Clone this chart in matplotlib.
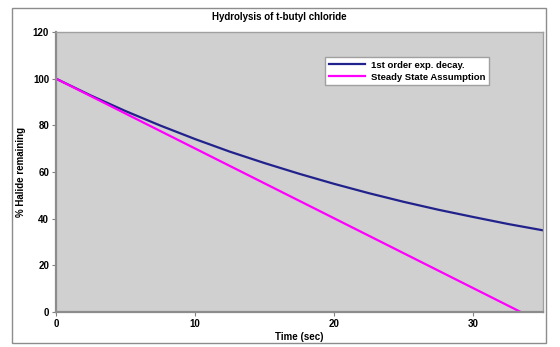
import matplotlib
matplotlib.use("Agg")
import matplotlib.pyplot as plt
from matplotlib.patches import Rectangle

# values
t_decay = [0, 2.5, 5, 7.5, 10, 12.5, 15, 17.5, 20, 22.5, 25, 27.5, 30, 32.5, 35]
halide_decay = [100, 92.8, 86.1, 79.9, 74.1, 68.7, 63.8, 59.2, 54.9, 50.9,
                47.2, 43.8, 40.7, 37.7, 35.0]
t_steady = [0, 33.4]
halide_steady = [100, 0]

x_ticks = [0, 10, 20, 30]
y_ticks = [0, 20, 40, 60, 80, 100, 120]

plt.rcParams["font.family"] = ["Liberation Sans", "DejaVu Sans"]
plt.rcParams["font.size"] = 7
plt.rcParams["font.weight"] = "bold"

W, H = 560, 347
fig = plt.figure(figsize=(W / 100, H / 100), dpi=100)
fig.patch.set_facecolor("white")

# chart area border
fig.patches.append(Rectangle((12 / W, 1 - 343 / H), (546 - 12) / W, (343 - 8) / H,
                             transform=fig.transFigure, fill=False,
                             edgecolor="#8c8c8c", linewidth=1.0))

ax = fig.add_axes([56 / W, 1 - 312 / H, (543 - 56) / W, (312 - 32) / H])
ax.set_facecolor("#d0d0d0")

ax.plot(t_decay, halide_decay, color="#22228c", linewidth=1.6,
        label="1st order exp. decay.")
ax.plot(t_steady, halide_steady, color="#ff00ff", linewidth=1.6,
        label="Steady State Assumption")

ax.set_xlim(0, 35)
ax.set_ylim(0, 120)
ax.set_xticks(x_ticks)
ax.set_yticks(y_ticks)
ax.tick_params(axis="both", length=3, width=0.8, color="#808080", labelsize=7, pad=2)

for s in ["top", "right"]:
    ax.spines[s].set_color("#a0a0a0")
    ax.spines[s].set_linewidth(1.0)
for s in ["bottom", "left"]:
    ax.spines[s].set_color("#8c8c8c")
    ax.spines[s].set_linewidth(1.6)

ax.set_xlabel("Time (sec)", fontsize=7, fontweight="bold", labelpad=2)
fig.text(21 / W, 1 - 172 / H, "% Halide remaining", rotation=90, ha="center",
         va="center", fontsize=7, fontweight="bold")
fig.text(279 / W, 1 - 17 / H, "Hydrolysis of t-butyl chloride", ha="center",
         va="center", fontsize=7, fontweight="bold")

leg = ax.legend(loc="upper left", bbox_to_anchor=(0.552, 0.911), frameon=True,
                fancybox=False, framealpha=1, edgecolor="#a0a0a0",
                fontsize=6.8, handlelength=3.9, borderpad=0.4, labelspacing=0.3,
                handletextpad=0.6, borderaxespad=0)
leg.get_frame().set_linewidth(1.0)

fig.savefig("out.png", dpi=100)
